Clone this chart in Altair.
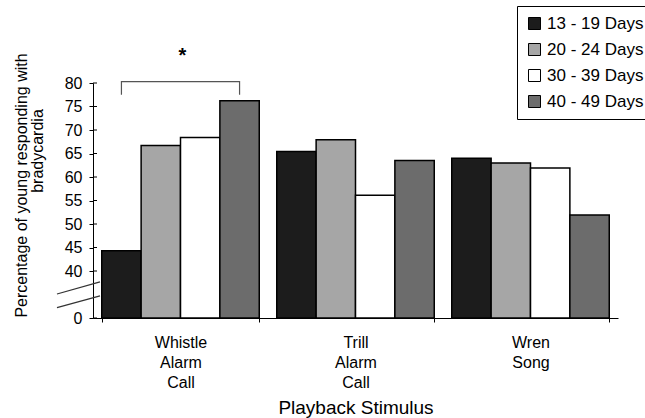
import altair as alt
import pandas as pd

stimuli = ["Whistle Alarm Call", "Trill Alarm Call", "Wren Song"]
ages = ["13 - 19 Days", "20 - 24 Days", "30 - 39 Days", "40 - 49 Days"]
whistle = [44.3, 66.7, 68.4, 76.2]
trill = [65.4, 67.9, 56.1, 63.5]
wren = [64.0, 63.0, 61.9, 51.9]
colors = ["#1c1c1c", "#a6a6a6", "#ffffff", "#6c6c6c"]
y_ticks = [30, 40, 45, 50, 55, 60, 65, 70, 75, 80]
baseline = 30
bracket_low, bracket_high, star_y = 77.5, 80.3, 85.8
break_lo = [35.1, 32.2]
break_hi = [37.7, 34.7]

rows = []
for s, vals in zip(stimuli, [whistle, trill, wren]):
    for a, v in zip(ages, vals):
        rows.append({"stimulus": s, "age": a, "value": v})
df = pd.DataFrame(rows)

FONT = "Liberation Sans"

xscale = alt.Scale(domain=stimuli, paddingInner=0.1, paddingOuter=0.05)
yscale = alt.Scale(domain=[30, 80], nice=False, zero=False)
oscale = alt.Scale(domain=ages)

x_axis = alt.Axis(
    title="Playback Stimulus", labelAngle=0,
    labelExpr="split(datum.label, ' ')",
    labelFontSize=16, labelLineHeight=20, labelPadding=12,
    labelBaseline="top",
    tickBand="extent", tickSize=4, tickColor="black", domainColor="black",
    labelColor="black", titleColor="black",
    titleFontSize=19, titleFontWeight="normal", titleY=80, titleBaseline="top",
    labelFont=FONT, titleFont=FONT,
)
y_axis = alt.Axis(
    title="Percentage of young responding with",
    values=y_ticks,
    labelExpr="datum.value == 30 ? '0' : datum.label",
    labelOverlap=False, labelFlush=False,
    labelFontSize=16, labelPadding=7, tickSize=4, grid=False,
    tickColor="black", domainColor="black", labelColor="black", titleColor="black",
    titleFontSize=16, titleFontWeight="normal", titleX=-72, titleY=102,
    titleAlign="center", titleBaseline="middle", titleAngle=270,
    labelFont=FONT, titleFont=FONT,
)

bars = alt.Chart(df).mark_bar(stroke="black", strokeWidth=1.5).encode(
    x=alt.X("stimulus:N", sort=stimuli, scale=xscale, axis=x_axis),
    xOffset=alt.XOffset("age:N", sort=ages, scale=oscale),
    y=alt.Y("value:Q", scale=yscale, axis=y_axis),
    y2=alt.datum(baseline),
    color=alt.Color(
        "age:N", sort=ages,
        scale=alt.Scale(domain=ages, range=colors),
        legend=alt.Legend(
            title=None, orient="none", legendX=424, legendY=-77,
            symbolType="square", symbolSize=144, symbolStrokeColor="black",
            symbolStrokeWidth=1, symbolOpacity=1,
            labelFontSize=17, labelFont=FONT, labelColor="black", labelOffset=4,
            rowPadding=8, strokeColor="black", padding=9, fillColor="white",
        ),
    ),
)

tick_df = pd.DataFrame({"value": y_ticks})
inner_ticks = alt.Chart(tick_df).mark_rule(color="black", strokeWidth=1).encode(
    x=alt.value(0), x2=alt.value(4),
    y=alt.Y("value:Q", scale=yscale, axis=y_axis),
)

bracket_df = pd.DataFrame({
    "stimulus": [stimuli[0]] * 4,
    "age": [ages[0], ages[0], ages[3], ages[3]],
    "value": [bracket_low, bracket_high, bracket_high, bracket_low],
    "ord": [0, 1, 2, 3],
})
bracket = alt.Chart(bracket_df).mark_line(color="#555555", strokeWidth=1.2, clip=False).encode(
    x=alt.X("stimulus:N", sort=stimuli, scale=xscale, axis=x_axis),
    xOffset=alt.XOffset("age:N", sort=ages, scale=oscale),
    y=alt.Y("value:Q", scale=yscale, axis=y_axis),
    order="ord:Q",
)

star_df = pd.DataFrame({"stimulus": [stimuli[0]], "value": [star_y], "t": ["*"]})
star = alt.Chart(star_df).mark_text(fontSize=20, fontWeight="bold", font=FONT, color="black", clip=False, dx=2).encode(
    x=alt.X("stimulus:N", sort=stimuli, scale=xscale, axis=x_axis),
    y=alt.Y("value:Q", scale=yscale, axis=y_axis),
    text="t:N",
)

title2_df = pd.DataFrame({"t": ["bradycardia"]})
title2 = alt.Chart(title2_df).mark_text(
    fontSize=16, font=FONT, color="black", angle=270, align="center", baseline="middle"
).encode(x=alt.value(-55), y=alt.value(68), text="t:N")

break_df = pd.DataFrame({"value": break_lo, "hi": break_hi})
breaks = alt.Chart(break_df).mark_rule(color="#333333", strokeWidth=1.2, clip=False).encode(
    x=alt.value(-36), x2=alt.value(7),
    y=alt.Y("value:Q", scale=yscale, axis=y_axis), y2="hi:Q",
)

chart = alt.layer(bars, inner_ticks, bracket, star, title2, breaks).properties(
    width=525, height=235,
    background="white",
    autosize=alt.AutoSizeParams(type="none"),
    padding={"left": 93, "top": 83, "right": 27, "bottom": 100},
).configure_view(stroke=None)

chart.save("out.html", embed_options={"renderer": "svg", "actions": False})
